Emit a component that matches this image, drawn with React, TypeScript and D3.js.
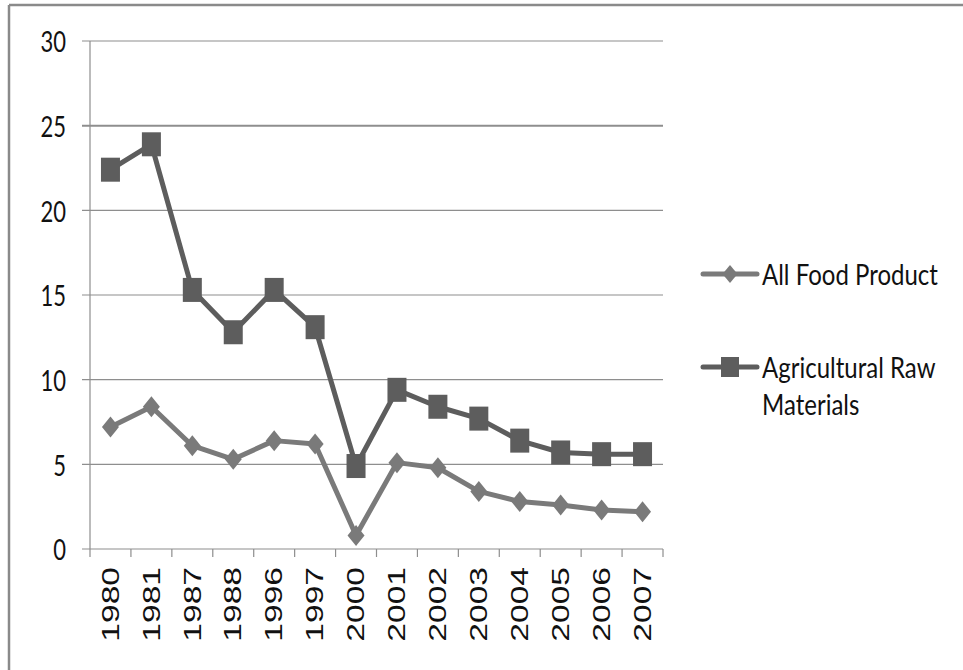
import React from "react";
import * as d3 from "d3";

const years = ["1980","1981","1987","1988","1996","1997","2000","2001","2002","2003","2004","2005","2006","2007"];
const foodValues = [7.2, 8.4, 6.1, 5.3, 6.4, 6.2, 0.8, 5.1, 4.8, 3.4, 2.8, 2.6, 2.3, 2.2];
const agriValues = [22.4, 23.9, 15.3, 12.8, 15.3, 13.1, 4.9, 9.4, 8.4, 7.7, 6.4, 5.7, 5.6, 5.6];
const yTicks = [0, 5, 10, 15, 20, 25, 30];
const seriesNames = ["All Food Product", "Agricultural Raw Materials"];

const W = 963, H = 670;
const left = 90, right = 663, top = 41, bottom = 549;
const SY = 1.35;

export default function App() {
  const x = d3.scaleBand<string>().domain(years).range([left, right]).paddingInner(0).paddingOuter(0);
  const y = d3.scaleLinear().domain([0, 30]).range([bottom, top]);
  const cx = (d: string) => (x(d) as number) + x.bandwidth() / 2;
  const line = d3.line<number>().x((_, i) => cx(years[i])).y((v) => y(v));
  const foodColor = "#7a7a7a";
  const agriColor = "#5d5d5d";
  const grid = "#8e8e8e";
  const diamond = (px: number, py: number, w: number, h: number) =>
    `M${px},${py - h / 2}L${px + w / 2},${py}L${px},${py + h / 2}L${px - w / 2},${py}Z`;

  return (
    <svg width={W} height={H} style={{ display: "block", position: "absolute", left: 0, top: 0, background: "#fff" }}>
      <rect x={0} y={0} width={W} height={H} fill="#fff" />
      <line x1={9} x2={W} y1={5} y2={5} stroke="#8a8a8a" strokeWidth={2.5} />
      <line x1={9} x2={9} y1={5} y2={H} stroke="#8a8a8a" strokeWidth={2.5} />
      {yTicks.map((t) => (
        <g key={t}>
          <line x1={82} x2={right} y1={y(t)} y2={y(t)} stroke={grid} strokeWidth={t === 25 ? 2 : 1.2} />
          <g transform={`translate(66,${y(t)}) scale(1,${SY})`}>
            <text x={0} y={0} textAnchor="end" dominantBaseline="central" fontFamily="Lato" fontSize={22} fill="#111">{t}</text>
          </g>
        </g>
      ))}
      <line x1={left} x2={left} y1={top} y2={bottom} stroke={grid} strokeWidth={1.2} />
      {years.map((d) => (
        <line key={"t" + d} x1={x(d) as number} x2={x(d) as number} y1={bottom} y2={557} stroke={grid} strokeWidth={1.2} />
      ))}
      <line x1={right} x2={right} y1={bottom} y2={557} stroke={grid} strokeWidth={1.2} />
      {years.map((d) => (
        <g key={"l" + d} transform={`translate(${cx(d)},567) scale(1,1.4) rotate(-90)`}>
          <text x={0} y={0} textAnchor="end" dominantBaseline="central" fontFamily="Liberation Sans" fontSize={24} fill="#111">{d}</text>
        </g>
      ))}
      <path d={line(agriValues) || ""} fill="none" stroke={agriColor} strokeWidth={5} strokeLinejoin="round" />
      <path d={line(foodValues) || ""} fill="none" stroke={foodColor} strokeWidth={5} strokeLinejoin="round" />
      {agriValues.map((v, i) => (
        <rect key={"a" + i} x={cx(years[i]) - 9.5} y={y(v) - 12} width={19} height={24} fill={agriColor} />
      ))}
      {foodValues.map((v, i) => (
        <path key={"f" + i} d={diamond(cx(years[i]), y(v), 17, 21)} fill={foodColor} />
      ))}
      <line x1={703} x2={757} y1={274} y2={274} stroke={foodColor} strokeWidth={5} strokeLinecap="round" />
      <path d={diamond(730, 274, 15, 18)} fill={foodColor} />
      <g transform={`translate(762,274) scale(1,1.2)`}>
        <text x={0} y={0} dominantBaseline="central" fontFamily="Lato" fontSize={24} fill="#111">{seriesNames[0]}</text>
      </g>
      <line x1={703} x2={757} y1={367} y2={367} stroke={agriColor} strokeWidth={5} strokeLinecap="round" />
      <rect x={721} y={357} width={18} height={20} fill={agriColor} />
      <g transform={`translate(762,367) scale(1,1.2)`}>
        <text x={0} y={0} dominantBaseline="central" fontFamily="Lato" fontSize={24} fill="#111">Agricultural Raw</text>
      </g>
      <g transform={`translate(762,404) scale(1,1.2)`}>
        <text x={0} y={0} dominantBaseline="central" fontFamily="Lato" fontSize={24} fill="#111">Materials</text>
      </g>
    </svg>
  );
}
